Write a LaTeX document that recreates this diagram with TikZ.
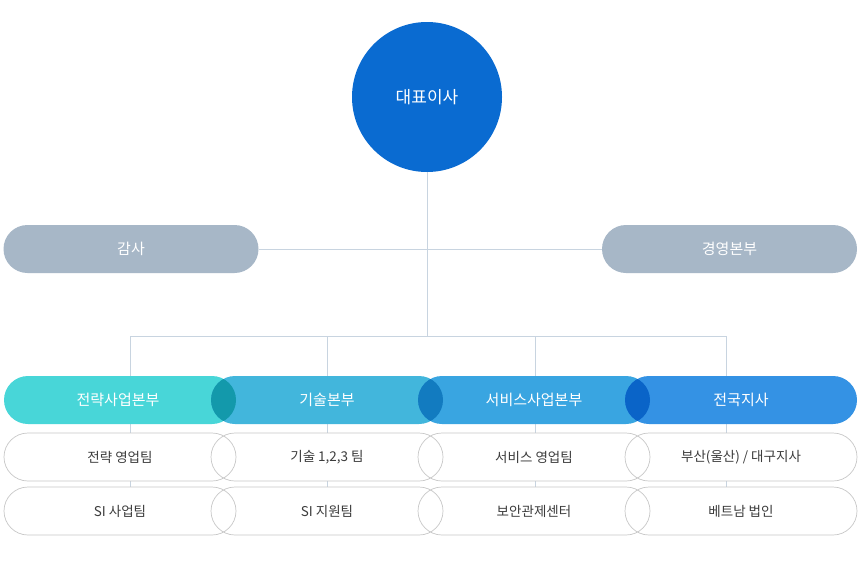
\documentclass[tikz,border=0pt]{standalone}
\usepackage{fontspec}
\setmainfont{Noto Sans CJK KR}
\definecolor{ceoblue}{RGB}{10,107,209}
\definecolor{graypill}{RGB}{167,183,199}
\definecolor{pA}{RGB}{72,214,216}
\definecolor{pB}{RGB}{66,182,220}
\definecolor{pC}{RGB}{57,165,225}
\definecolor{pD}{RGB}{52,146,228}
\definecolor{oAB}{RGB}{19,153,171}
\definecolor{oBC}{RGB}{18,123,192}
\definecolor{oCD}{RGB}{10,100,200}
\definecolor{linec}{RGB}{200,212,224}
\definecolor{outl}{RGB}{200,200,200}
\definecolor{subtxt}{RGB}{60,60,60}
\tikzset{
  pill/.style={rectangle, rounded corners=24pt, minimum width=232pt, minimum height=48pt, inner sep=0pt, font=\fontsize{15}{17}\selectfont, text=white},
  graybox/.style={rectangle, rounded corners=24pt, minimum width=255pt, minimum height=48pt, inner sep=0pt, fill=graypill, font=\fontsize{15}{17}\selectfont, text=white},
  subpill/.style={rectangle, rounded corners=24pt, minimum width=232pt, minimum height=48pt, inner sep=0pt, font=\fontsize{13.5}{16}\selectfont, text=subtxt, draw=outl, line width=0.7pt},
  conn/.style={draw=linec, line width=0.8pt},
}
\begin{document}
\begin{tikzpicture}[x=1pt,y=-1pt]
\useasboundingbox (0,0) rectangle (864,562);
\fill[white] (0,0) rectangle (864,562);
% coordinates
\coordinate (bus) at (427,336);
\coordinate (bl) at (130,336);
\coordinate (br) at (726,336);
\coordinate (b2) at (327,336);
\coordinate (b3) at (535,336);
\coordinate (e1) at (130,487);
\coordinate (e2) at (327,487);
\coordinate (e3) at (535,487);
\coordinate (e4) at (726,487);
\node[circle, minimum size=150pt, inner sep=0pt, fill=ceoblue, text=white, font=\fontsize{17}{19}\selectfont] (ceo) at (427,97) {대표이사};
\node[graybox] (gamsa) at (131,249) {감사};
\node[graybox] (mgmt) at (729.5,249) {경영본부};
% connectors
\draw[conn] (ceo.south) -- (bus);
\draw[conn] (gamsa.east) -- (mgmt.west);
\draw[conn] (bl) -- (br);
\draw[conn] (bl) -- (e1);
\draw[conn] (b2) -- (e2);
\draw[conn] (b3) -- (e3);
\draw[conn] (br) -- (e4);
% top row pills
\fill[pA, rounded corners=24pt] (4,376) rectangle (236,424);
\fill[pB, rounded corners=24pt] (211,376) rectangle (443,424);
\fill[pC, rounded corners=24pt] (418,376) rectangle (650,424);
\fill[pD, rounded corners=24pt] (625,376) rectangle (857,424);
\begin{scope}
\clip[rounded corners=24pt] (4,376) rectangle (236,424);
\fill[oAB, rounded corners=24pt] (211,376) rectangle (443,424);
\end{scope}
\begin{scope}
\clip[rounded corners=24pt] (211,376) rectangle (443,424);
\fill[oBC, rounded corners=24pt] (418,376) rectangle (650,424);
\end{scope}
\begin{scope}
\clip[rounded corners=24pt] (418,376) rectangle (650,424);
\fill[oCD, rounded corners=24pt] (625,376) rectangle (857,424);
\end{scope}
\node[pill] (d1) at (118,400) {전략사업본부};
\node[pill] (d2) at (327,400) {기술본부};
\node[pill] (d3) at (534,400) {서비스사업본부};
\node[pill] (d4) at (741,400) {전국지사};
% sub rows: white backgrounds hide connectors inside pills
\foreach \y in {433,487}{
  \fill[white] (4,\y) rectangle (857,\y+48);
}
\node[subpill] (s11) at (120,457) {전략 영업팀};
\node[subpill] (s21) at (327,457) {기술 1,2,3 팀};
\node[subpill] (s31) at (534,457) {서비스 영업팀};
\node[subpill] (s41) at (741,457) {부산(울산) / 대구지사};
\node[subpill] (s12) at (120,511) {SI 사업팀};
\node[subpill] (s22) at (327,511) {SI 지원팀};
\node[subpill] (s32) at (534,511) {보안관제센터};
\node[subpill] (s42) at (741,511) {베트남 법인};
\end{tikzpicture}
\end{document}
